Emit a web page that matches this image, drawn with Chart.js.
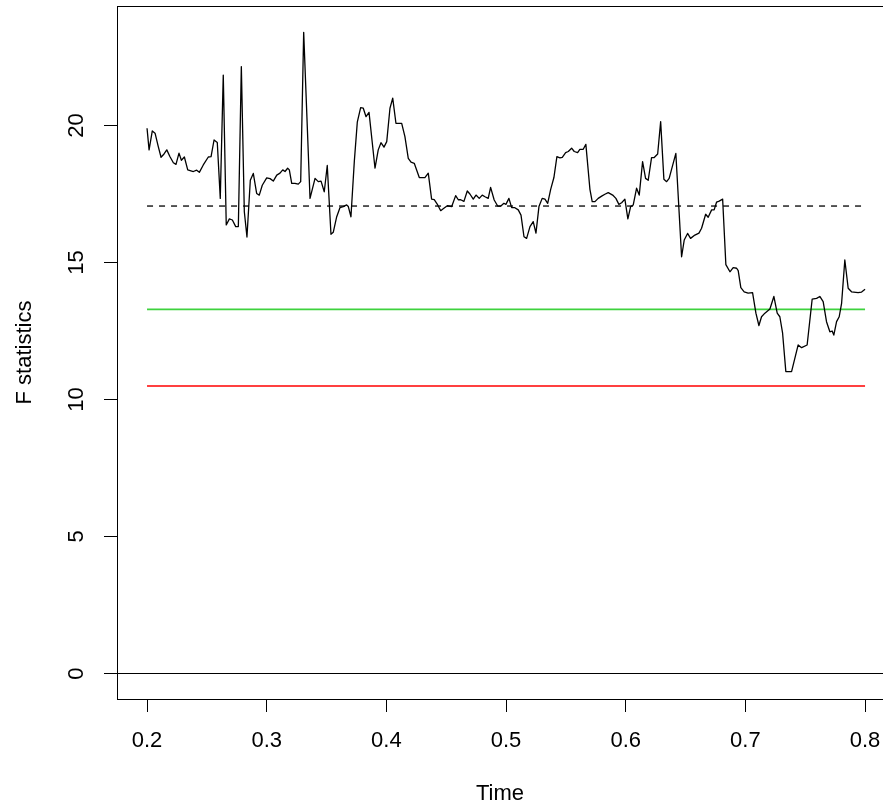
<!DOCTYPE html>
<html>
<head>
<meta charset="utf-8">
<script src="https://cdn.jsdelivr.net/npm/chart.js@4.4.1/dist/chart.umd.min.js"></script>
<style>
  html, body { margin: 0; padding: 0; background: #fff; overflow: hidden; }
</style>
</head>
<body>
<canvas id="myChart" width="883" height="807"></canvas>
<script>
// values
const times = [
  0.2000, 0.2017, 0.2044, 0.2067, 0.2094, 0.2117, 0.2142, 0.2165, 0.2192, 0.2220,
  0.2242, 0.2267, 0.2287, 0.2312, 0.2340, 0.2387, 0.2415, 0.2437, 0.2470, 0.2512,
  0.2535, 0.2560, 0.2587, 0.2612, 0.2637, 0.2662, 0.2688, 0.2713, 0.2741, 0.2763,
  0.2788, 0.2813, 0.2835, 0.2863, 0.2888, 0.2916, 0.2938, 0.2963, 0.3000, 0.3028,
  0.3055, 0.3084, 0.3111, 0.3134, 0.3153, 0.3175, 0.3189, 0.3209, 0.3236, 0.3264,
  0.3284, 0.3309, 0.3362, 0.3404, 0.3431, 0.3454, 0.3481, 0.3506, 0.3537, 0.3556,
  0.3585, 0.3612, 0.3640, 0.3668, 0.3682, 0.3704, 0.3732, 0.3757, 0.3785, 0.3807,
  0.3830, 0.3855, 0.3905, 0.3932, 0.3955, 0.3980, 0.4003, 0.4030, 0.4053, 0.4080,
  0.4128, 0.4155, 0.4183, 0.4206, 0.4233, 0.4275, 0.4322, 0.4350, 0.4378, 0.4400,
  0.4429, 0.4454, 0.4475, 0.4509, 0.4546, 0.4579, 0.4601, 0.4621, 0.4648, 0.4676,
  0.4698, 0.4726, 0.4749, 0.4776, 0.4801, 0.4824, 0.4851, 0.4871, 0.4901, 0.4930,
  0.4957, 0.4982, 0.4999, 0.5024, 0.5047, 0.5074, 0.5102, 0.5125, 0.5150, 0.5172,
  0.5200, 0.5227, 0.5250, 0.5275, 0.5302, 0.5325, 0.5348, 0.5373, 0.5400, 0.5425,
  0.5450, 0.5470, 0.5498, 0.5520, 0.5548, 0.5570, 0.5598, 0.5617, 0.5645, 0.5667,
  0.5701, 0.5720, 0.5743, 0.5770, 0.5799, 0.5826, 0.5854, 0.5891, 0.5918, 0.5943,
  0.5966, 0.5993, 0.6018, 0.6041, 0.6063, 0.6091, 0.6113, 0.6141, 0.6166, 0.6188,
  0.6216, 0.6238, 0.6267, 0.6292, 0.6319, 0.6342, 0.6363, 0.6419, 0.6467, 0.6489,
  0.6517, 0.6542, 0.6578, 0.6612, 0.6634, 0.6668, 0.6689, 0.6718, 0.6739, 0.6759,
  0.6781, 0.6810, 0.6837, 0.6871, 0.6898, 0.6927, 0.6940, 0.6962, 0.6990, 0.7023,
  0.7060, 0.7088, 0.7113, 0.7135, 0.7163, 0.7205, 0.7238, 0.7266, 0.7288, 0.7311,
  0.7338, 0.7386, 0.7441, 0.7470, 0.7516, 0.7558, 0.7595, 0.7622, 0.7650, 0.7678,
  0.7706, 0.7725, 0.7739, 0.7762, 0.7784, 0.7804, 0.7831, 0.7859, 0.7887, 0.7942,
  0.7971, 0.8000
];
const fStats = [
  19.90, 19.11, 19.80, 19.72, 19.23, 18.84, 18.96, 19.11, 18.86, 18.64,
  18.58, 18.99, 18.73, 18.85, 18.38, 18.32, 18.37, 18.29, 18.56, 18.85,
  18.86, 19.47, 19.38, 17.34, 21.84, 16.37, 16.59, 16.55, 16.31, 16.31,
  22.15, 16.85, 15.93, 18.00, 18.25, 17.52, 17.46, 17.82, 18.09, 18.06,
  17.97, 18.19, 18.26, 18.38, 18.32, 18.44, 18.38, 17.89, 17.89, 17.86,
  17.95, 23.40, 17.34, 18.07, 17.95, 17.97, 17.58, 18.54, 16.03, 16.10,
  16.67, 17.00, 17.04, 17.10, 17.04, 16.67, 18.68, 20.12, 20.65, 20.63,
  20.32, 20.48, 18.44, 19.11, 19.37, 19.21, 19.41, 20.63, 21.00, 20.08,
  20.08, 19.59, 18.80, 18.66, 18.62, 18.10, 18.10, 18.26, 17.31, 17.29,
  17.10, 16.89, 16.96, 17.07, 17.04, 17.44, 17.29, 17.29, 17.23, 17.61,
  17.50, 17.31, 17.46, 17.34, 17.46, 17.40, 17.34, 17.74, 17.28, 17.06,
  17.06, 17.16, 17.12, 17.34, 17.00, 17.00, 16.92, 16.73, 15.94, 15.88,
  16.31, 16.49, 16.07, 17.04, 17.34, 17.31, 17.16, 17.67, 18.10, 18.86,
  18.82, 18.84, 19.01, 19.05, 19.17, 19.05, 19.01, 19.13, 19.13, 19.31,
  17.67, 17.22, 17.22, 17.34, 17.42, 17.49, 17.55, 17.46, 17.34, 17.12,
  17.18, 17.31, 16.59, 17.04, 17.10, 17.71, 17.46, 18.68, 18.07, 18.00,
  18.83, 18.83, 18.96, 20.14, 18.04, 17.95, 18.07, 18.98, 15.21, 15.82,
  16.06, 15.88, 16.00, 16.07, 16.25, 16.76, 16.65, 16.92, 16.92, 17.20,
  17.24, 17.31, 14.92, 14.66, 14.81, 14.79, 14.70, 14.08, 13.93, 13.88,
  13.90, 13.15, 12.70, 13.02, 13.15, 13.30, 13.76, 13.15, 13.02, 12.42,
  11.02, 11.02, 11.99, 11.89, 11.99, 13.66, 13.69, 13.76, 13.57, 12.84,
  12.47, 12.50, 12.35, 12.84, 13.02, 13.51, 15.09, 14.06, 13.93, 13.90,
  13.92, 14.02
];

const dashedLevel = 17.06;
const greenLevel = 13.29;
const redLevel = 10.49;
const zeroLevel = 0;

const xTicks = [0.2, 0.3, 0.4, 0.5, 0.6, 0.7, 0.8];
const yTicks = [0, 5, 10, 15, 20];
// the plot region is cut by the right edge of the window
const xRange = [0.1749, 0.8150];
const yRange = [-0.93, 24.36];

function hline(level, x0, x1) {
  return [{ x: x0, y: level }, { x: x1, y: level }];
}

// R style box round the plot region
const boxPlugin = {
  id: "box",
  afterDraw(chart) {
    let ca = chart.chartArea;
    let ctx = chart.ctx;
    ctx.save();
    ctx.strokeStyle = "#000";
    ctx.lineWidth = 1;
    ctx.strokeRect(
      Math.round(ca.left) + 0.5,
      Math.round(ca.top) + 0.5,
      Math.round(ca.right - ca.left),
      Math.round(ca.bottom - ca.top)
    );
    ctx.restore();
  },
};

Chart.defaults.font.family = "'Liberation Sans', Arial, sans-serif";
Chart.defaults.font.size = 22;
Chart.defaults.color = "#000";

let ctx = document.getElementById("myChart").getContext("2d");
new Chart(ctx, {
  type: "line",
  data: {
    datasets: [
      {
        data: times.map((t, i) => ({ x: t, y: fStats[i] })),
        borderColor: "#000",
        borderWidth: 1.3,
        borderJoinStyle: "round",
      },
      {
        data: hline(dashedLevel, 0.2, 0.8),
        borderColor: "#000",
        borderWidth: 1.3,
        borderDash: [6, 6],
      },
      {
        data: hline(greenLevel, 0.2, 0.8),
        borderColor: "#3ed23e",
        borderWidth: 1.8,
      },
      {
        data: hline(redLevel, 0.2, 0.8),
        borderColor: "#ff0000",
        borderWidth: 1.6,
      },
      {
        data: hline(zeroLevel, xRange[0], xRange[1]),
        borderColor: "#000",
        borderWidth: 1.2,
      },
    ],
  },
  options: {
    responsive: false,
    animation: false,
    devicePixelRatio: 1,
    layout: { padding: { top: 6, left: 0, right: 0, bottom: 0 } },
    elements: { point: { radius: 0 }, line: { tension: 0 } },
    plugins: { legend: { display: false }, tooltip: { enabled: false } },
    scales: {
      x: {
        type: "linear",
        min: xRange[0],
        max: xRange[1],
        afterBuildTicks: (scale) => {
          scale.ticks = xTicks.map((v) => ({ value: v }));
        },
        afterFit: (scale) => {
          scale.height = 108;
          scale.paddingLeft = 0;
          scale.paddingRight = 0;
        },
        border: { display: false },
        grid: {
          drawOnChartArea: false,
          drawTicks: true,
          tickLength: 13,
          color: "#000",
        },
        ticks: {
          padding: 16,
          maxRotation: 0,
          autoSkip: false,
          callback: (v) => v.toFixed(1),
        },
        title: {
          display: true,
          text: "Time",
          padding: { top: 0, bottom: 0 },
        },
      },
      y: {
        type: "linear",
        min: yRange[0],
        max: yRange[1],
        afterBuildTicks: (scale) => {
          scale.ticks = yTicks.map((v) => ({ value: v }));
        },
        afterFit: (scale) => {
          scale.width = 117;
          scale.paddingTop = 0;
          scale.paddingBottom = 0;
        },
        border: { display: false },
        grid: {
          drawOnChartArea: false,
          drawTicks: true,
          tickLength: 13,
          color: "#000",
        },
        ticks: {
          padding: 15,
          minRotation: 90,
          maxRotation: 90,
          crossAlign: "center",
          autoSkip: false,
        },
        title: {
          display: true,
          text: "F statistics",
          padding: { top: 12, bottom: 0 },
        },
      },
    },
  },
  plugins: [boxPlugin],
});
</script>
</body>
</html>
